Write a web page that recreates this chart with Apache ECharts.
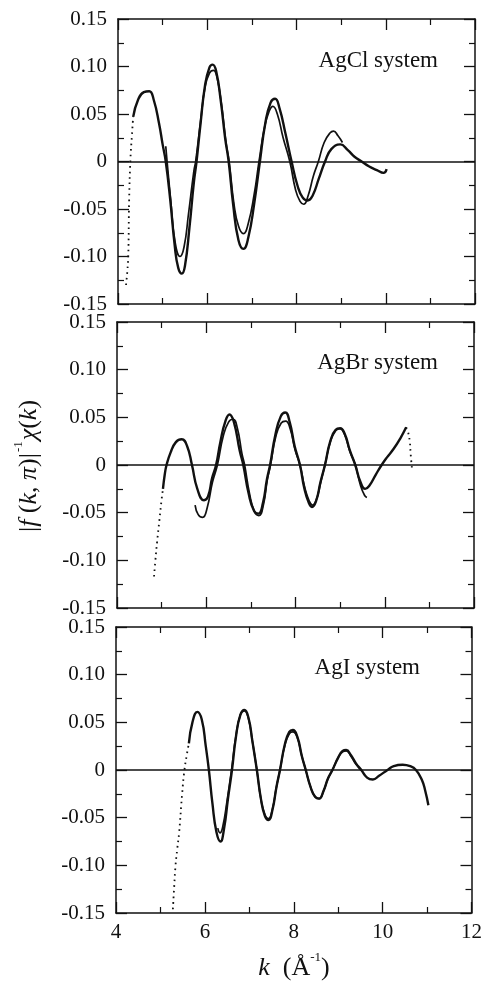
<!DOCTYPE html>
<html>
<head>
<meta charset="utf-8">
<script src="https://cdn.jsdelivr.net/npm/echarts@6/dist/echarts.min.js"></script>
<style>html,body{margin:0;padding:0;background:#fff;}#c{width:485px;height:991px;}</style>
</head>
<body>
<div id="c"></div>
<script>
// ---- data: [k, |f(k,pi)|^-1 chi(k)] ----
var panelNames = ['AgCl system', 'AgBr system', 'AgI system'];
var xTicks = [4, 6, 8, 10, 12];
var yTicks = [-0.15, -0.10, -0.05, 0, 0.05, 0.10, 0.15];

var agclDotted = [[4.18,-0.130],[4.21,-0.115],[4.23,-0.100],[4.25,-0.040],[4.28,0.004],[4.31,0.026],[4.34,0.047]];
var agclA = [[4.34,0.047],[4.45,0.065],[4.58,0.073],[4.70,0.074],[4.80,0.065],[4.92,0.040],[5.00,0.018],[5.07,0.0],[5.17,-0.040],[5.27,-0.088],[5.35,-0.112],[5.43,-0.118],[5.50,-0.110],[5.60,-0.070],[5.70,-0.022],[5.76,0.0],[5.85,0.040],[5.95,0.080],[6.05,0.099],[6.12,0.102],[6.20,0.095],[6.30,0.065],[6.40,0.025],[6.48,0.0],[6.58,-0.045],[6.70,-0.083],[6.81,-0.092],[6.92,-0.080],[7.05,-0.045],[7.18,0.0],[7.30,0.040],[7.42,0.062],[7.52,0.066],[7.62,0.056],[7.75,0.030],[7.89,0.0],[8.02,-0.025],[8.14,-0.038],[8.25,-0.041],[8.36,-0.036],[8.50,-0.018],[8.64,0.0],[8.78,0.013],[8.98,0.018],[9.15,0.012],[9.30,0.005],[9.46,0.0],[9.62,-0.005],[9.80,-0.009],[9.95,-0.012],[10.02,-0.008]];
var agclB = [[5.07,0.016],[5.10,0.0],[5.18,-0.040],[5.28,-0.085],[5.39,-0.100],[5.48,-0.090],[5.58,-0.055],[5.70,-0.010],[5.74,0.0],[5.85,0.042],[5.95,0.078],[6.05,0.093],[6.14,0.096],[6.22,0.088],[6.32,0.060],[6.42,0.020],[6.49,0.0],[6.60,-0.045],[6.70,-0.068],[6.81,-0.076],[6.92,-0.065],[7.05,-0.035],[7.16,0.0],[7.28,0.035],[7.38,0.052],[7.47,0.058],[7.57,0.050],[7.70,0.025],[7.85,0.0],[7.98,-0.030],[8.08,-0.042],[8.16,-0.045],[8.26,-0.036],[8.38,-0.015],[8.49,0.0],[8.62,0.020],[8.75,0.030],[8.83,0.032],[8.93,0.027],[9.03,0.020]];

var agbrDotted = [[4.83,-0.117],[4.86,-0.100],[4.90,-0.080],[4.95,-0.058],[5.00,-0.036],[5.03,-0.025]];
var agbrA = [[5.03,-0.025],[5.07,-0.010],[5.11,0.0],[5.20,0.013],[5.32,0.024],[5.45,0.027],[5.57,0.020],[5.68,0.0],[5.80,-0.025],[5.95,-0.037],[6.04,-0.033],[6.13,-0.014],[6.22,0.0],[6.32,0.025],[6.43,0.046],[6.52,0.053],[6.62,0.045],[6.75,0.015],[6.83,0.0],[6.95,-0.030],[7.07,-0.048],[7.17,-0.051],[7.27,-0.040],[7.36,-0.015],[7.43,0.0],[7.55,0.032],[7.67,0.051],[7.77,0.055],[7.87,0.045],[7.98,0.020],[8.10,0.0],[8.20,-0.025],[8.30,-0.040],[8.37,-0.044],[8.46,-0.038],[8.56,-0.018],[8.66,0.0],[8.78,0.025],[8.90,0.037],[9.00,0.0385],[9.10,0.033],[9.22,0.015],[9.34,0.0],[9.45,-0.017],[9.56,-0.025],[9.65,-0.022],[9.80,-0.010],[9.93,0.0],[10.05,0.008],[10.20,0.017],[10.35,0.028],[10.48,0.0395]];
var agbrDottedEnd = [[10.48,0.0395],[10.52,0.035],[10.56,0.025],[10.58,0.012],[10.61,-0.004]];
var agbrB = [[5.75,-0.042],[5.82,-0.052],[5.92,-0.055],[6.02,-0.045],[6.14,-0.018],[6.25,0.0],[6.38,0.030],[6.50,0.045],[6.60,0.048],[6.70,0.038],[6.80,0.012],[6.86,0.0],[6.97,-0.030],[7.08,-0.049],[7.18,-0.053],[7.28,-0.042],[7.37,-0.015],[7.44,0.0],[7.56,0.030],[7.68,0.044],[7.78,0.046],[7.88,0.038],[7.99,0.016],[8.10,0.0],[8.21,-0.024],[8.31,-0.038],[8.38,-0.042],[8.47,-0.036],[8.57,-0.017],[8.66,0.0],[8.78,0.024],[8.90,0.036],[9.00,0.038],[9.10,0.032],[9.22,0.014],[9.34,0.0],[9.46,-0.022],[9.55,-0.032],[9.60,-0.034]];

var agiDotted = [[5.28,-0.146],[5.31,-0.122],[5.34,-0.100],[5.38,-0.082],[5.42,-0.066],[5.49,-0.024],[5.54,0.0],[5.59,0.015],[5.64,0.028]];
var agiA = [[5.64,0.028],[5.72,0.050],[5.83,0.061],[5.93,0.053],[6.02,0.025],[6.09,0.0],[6.17,-0.035],[6.26,-0.065],[6.35,-0.075],[6.43,-0.062],[6.52,-0.030],[6.61,0.0],[6.70,0.035],[6.80,0.058],[6.89,0.063],[6.98,0.055],[7.07,0.030],[7.17,0.0],[7.26,-0.030],[7.35,-0.048],[7.43,-0.0525],[7.52,-0.042],[7.61,-0.018],[7.69,0.0],[7.80,0.027],[7.90,0.040],[7.98,0.042],[8.08,0.035],[8.18,0.015],[8.27,0.0],[8.38,-0.018],[8.48,-0.028],[8.57,-0.030],[8.67,-0.022],[8.77,-0.009],[8.87,0.0],[9.00,0.013],[9.10,0.020],[9.18,0.021],[9.28,0.016],[9.40,0.007],[9.52,0.0],[9.65,-0.008],[9.78,-0.010],[9.92,-0.006],[10.11,0.0],[10.25,0.004],[10.45,0.0055],[10.62,0.004],[10.75,0.0],[10.88,-0.010],[10.96,-0.022],[11.03,-0.037]];
var agiB = [[6.29,-0.061],[6.34,-0.066],[6.40,-0.060],[6.50,-0.032],[6.60,0.0],[6.70,0.036],[6.80,0.058],[6.89,0.062],[6.98,0.054],[7.07,0.030],[7.17,0.0],[7.26,-0.030],[7.35,-0.047],[7.43,-0.051],[7.52,-0.041],[7.61,-0.018],[7.69,0.0],[7.80,0.026],[7.90,0.038],[7.98,0.040],[8.08,0.034],[8.18,0.015],[8.27,0.0],[8.38,-0.018],[8.48,-0.028],[8.57,-0.030],[8.67,-0.022],[8.77,-0.009],[8.87,0.0],[9.00,0.013],[9.10,0.019],[9.18,0.020],[9.28,0.015],[9.40,0.006],[9.52,0.0]];

var panelSeries = [
  {dotted: [agclDotted], solid: [agclA], thin: [agclB]},
  {dotted: [agbrDotted, agbrDottedEnd], solid: [agbrA], thin: [agbrB]},
  {dotted: [agiDotted], solid: [agiA], thin: [agiB]}
];

// ---- layout ----
var grids = [
  {left: 118, top: 19, width: 357, height: 285},
  {left: 117, top: 322, width: 357, height: 286},
  {left: 116, top: 627, width: 357, height: 286}
];
var FONT = '"Liberation Serif", "DejaVu Serif", serif';
var INK = '#111';

var option = {
  animation: false,
  backgroundColor: '#fff',
  grid: [], xAxis: [], yAxis: [], series: [], graphic: []
};

grids.forEach(function (g, i) {
  option.grid.push({left: g.left, top: g.top, width: g.width, height: g.height, show: false, containLabel: false});
  var lineStyle = {color: INK, width: 1.5};
  ['bottom', 'top'].forEach(function (pos) {
    option.xAxis.push({
      type: 'value', gridIndex: i, position: pos, min: 4, max: 12, interval: 2,
      axisLine: {show: true, onZero: false, lineStyle: lineStyle},
      axisTick: {show: true, inside: true, length: 11, lineStyle: {color: INK, width: 1.3}},
      minorTick: {show: true, splitNumber: 2, length: 6, lineStyle: {color: INK, width: 1.2}},
      splitLine: {show: false},
      axisLabel: {show: (pos === 'bottom' && i === 2), color: INK, fontFamily: FONT, fontSize: 21, margin: 9,
        formatter: function (v) { return String(v); }}
    });
  });
  ['left', 'right'].forEach(function (pos) {
    option.yAxis.push({
      type: 'value', gridIndex: i, position: pos, min: -0.15, max: 0.15, interval: 0.05,
      axisLine: {show: true, onZero: false, lineStyle: lineStyle},
      axisTick: {show: true, inside: true, length: 11, lineStyle: {color: INK, width: 1.3}},
      minorTick: {show: true, splitNumber: 2, length: 6, lineStyle: {color: INK, width: 1.2}},
      splitLine: {show: false},
      axisLabel: {show: pos === 'left', color: INK, fontFamily: FONT, fontSize: 21, margin: 11,
        formatter: function (v) { return Math.abs(v) < 1e-9 ? '0' : v.toFixed(2); }}
    });
  });
  var xi = i * 2, yi = i * 2;
  var ps = panelSeries[i];
  var first = true;
  function add(data, style) {
    var s = {
      type: 'line', xAxisIndex: xi, yAxisIndex: yi, data: data, smooth: 0.5,
      showSymbol: false, symbol: 'none', lineStyle: style, silent: true, z: 3
    };
    if (first) {
      s.markLine = {silent: true, symbol: 'none', label: {show: false},
        lineStyle: {color: INK, width: 1.5, type: 'solid'}, data: [{yAxis: 0}], z: 2};
      first = false;
    }
    option.series.push(s);
  }
  ps.solid.forEach(function (d) { add(d, {color: INK, width: 2.4}); });
  ps.thin.forEach(function (d) { add(d, {color: INK, width: 1.7}); });
  ps.dotted.forEach(function (d) { add(d, {color: INK, width: 1.8, type: [1.6, 4]}); });
});

// panel titles
var titlePos = [[438, 61], [438, 363], [420, 668]];
panelNames.forEach(function (n, i) {
  option.graphic.push({type: 'text', x: titlePos[i][0], y: titlePos[i][1],
    style: {text: n, fill: INK, font: '23px ' + FONT, textAlign: 'right', textVerticalAlign: 'middle'}});
});

// y-axis title (rotated)
option.graphic.push({
  type: 'text', x: 27, y: 466, rotation: Math.PI / 2,
  style: {
    text: '{n||}{i|f}{n| (}{i|k}{n|, }{i|π}{n|)|}{s|-1}{i|χ}{n|(}{i|k}{n|)}',
    textAlign: 'center', textVerticalAlign: 'middle',
    rich: {
      n: {fontFamily: FONT, fontSize: 26, fill: INK, lineHeight: 30, verticalAlign: 'bottom'},
      i: {fontFamily: FONT, fontSize: 26, fontStyle: 'italic', fill: INK, lineHeight: 30, verticalAlign: 'bottom'},
      s: {fontFamily: FONT, fontSize: 13, fill: INK, lineHeight: 30, verticalAlign: 'top', padding: [0, 1, 0, 1]}
    }
  }
});

// x-axis title
option.graphic.push({
  type: 'text', x: 294, y: 966,
  style: {
    text: '{i|k}{n|  (Å}{s|-1}{n|)}',
    textAlign: 'center', textVerticalAlign: 'middle',
    rich: {
      n: {fontFamily: FONT, fontSize: 26, fill: INK, lineHeight: 30, verticalAlign: 'bottom'},
      i: {fontFamily: FONT, fontSize: 26, fontStyle: 'italic', fill: INK, lineHeight: 30, verticalAlign: 'bottom'},
      s: {fontFamily: FONT, fontSize: 13, fill: INK, lineHeight: 30, verticalAlign: 'top'}
    }
  }
});

var chart = echarts.init(document.getElementById('c'), null, {renderer: 'canvas'});
chart.setOption(option);
</script>
</body>
</html>
